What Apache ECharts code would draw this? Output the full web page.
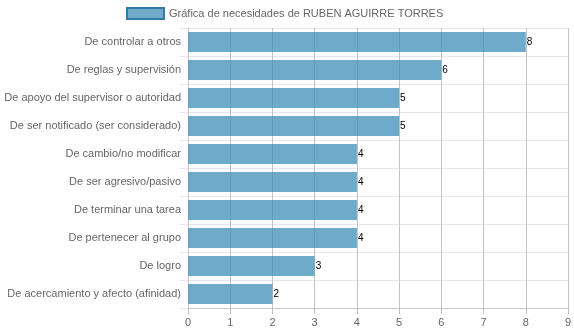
<!DOCTYPE html>
<html>
<head>
<meta charset="utf-8">
<script src="https://cdn.jsdelivr.net/npm/echarts@6/dist/echarts.min.js"></script>
<style>
  html, body { margin: 0; padding: 0; background: #fff; }
  #chart { width: 574px; height: 334px; }
</style>
</head>
<body>
<div id="chart"></div>
<script>
// Necesidades, listed top to bottom
const categories = [
  'De controlar a otros',
  'De reglas y supervisión',
  'De apoyo del supervisor o autoridad',
  'De ser notificado (ser considerado)',
  'De cambio/no modificar',
  'De ser agresivo/pasivo',
  'De terminar una tarea',
  'De pertenecer al grupo',
  'De logro',
  'De acercamiento y afecto (afinidad)'
];
const values = [8, 6, 5, 5, 4, 4, 4, 4, 3, 2];
const seriesName = 'Gráfica de necesidades de RUBEN AGUIRRE TORRES';

const chart = echarts.init(document.getElementById('chart'), null, { renderer: 'canvas' });
const font = '"Liberation Sans", Arial, Helvetica, sans-serif';

chart.setOption({
  animation: false,
  backgroundColor: '#fff',
  textStyle: { fontFamily: font },
  legend: {
    left: 126,
    top: 7,
    padding: 0,
    itemWidth: 37,
    itemHeight: 11,
    itemGap: 7,
    icon: 'rect',
    textStyle: { color: '#666', fontSize: 11, fontFamily: font },
    data: [{
      name: seriesName,
      itemStyle: { color: 'rgba(112,170,201,1)', borderColor: '#2f7aa6', borderWidth: 2 }
    }]
  },
  grid: { left: 188, right: 6, top: 28, bottom: 26, containLabel: false, outerBoundsMode: 'none' },
  xAxis: {
    type: 'value',
    min: 0,
    max: 9,
    interval: 1,
    axisLine: { show: true, lineStyle: { color: '#c8c8c8' } },
    axisTick: { show: true, length: 6, lineStyle: { color: '#bdbdbd' } },
    axisLabel: { color: '#666', fontSize: 11, fontFamily: font, margin: 9 },
    splitLine: { show: true, lineStyle: { color: '#c4c4c4', width: 1 } }
  },
  yAxis: {
    type: 'category',
    inverse: true,
    data: categories,
    axisLine: { show: true, lineStyle: { color: '#c8c8c8' } },
    axisTick: { show: true, length: 8, lineStyle: { color: '#e6e6e6' } },
    axisLabel: { color: '#666', fontSize: 11, fontFamily: font, margin: 7 },
    splitLine: { show: true, lineStyle: { color: '#e6e6e6', width: 1 } }
  },
  series: [{
    name: seriesName,
    type: 'bar',
    data: values,
    barWidth: 20,
    itemStyle: { color: 'rgba(64,143,185,0.76)' },
    label: {
      show: true,
      position: 'right',
      distance: 1,
      color: '#000',
      fontSize: 10,
      fontFamily: font
    }
  }]
});
</script>
</body>
</html>
